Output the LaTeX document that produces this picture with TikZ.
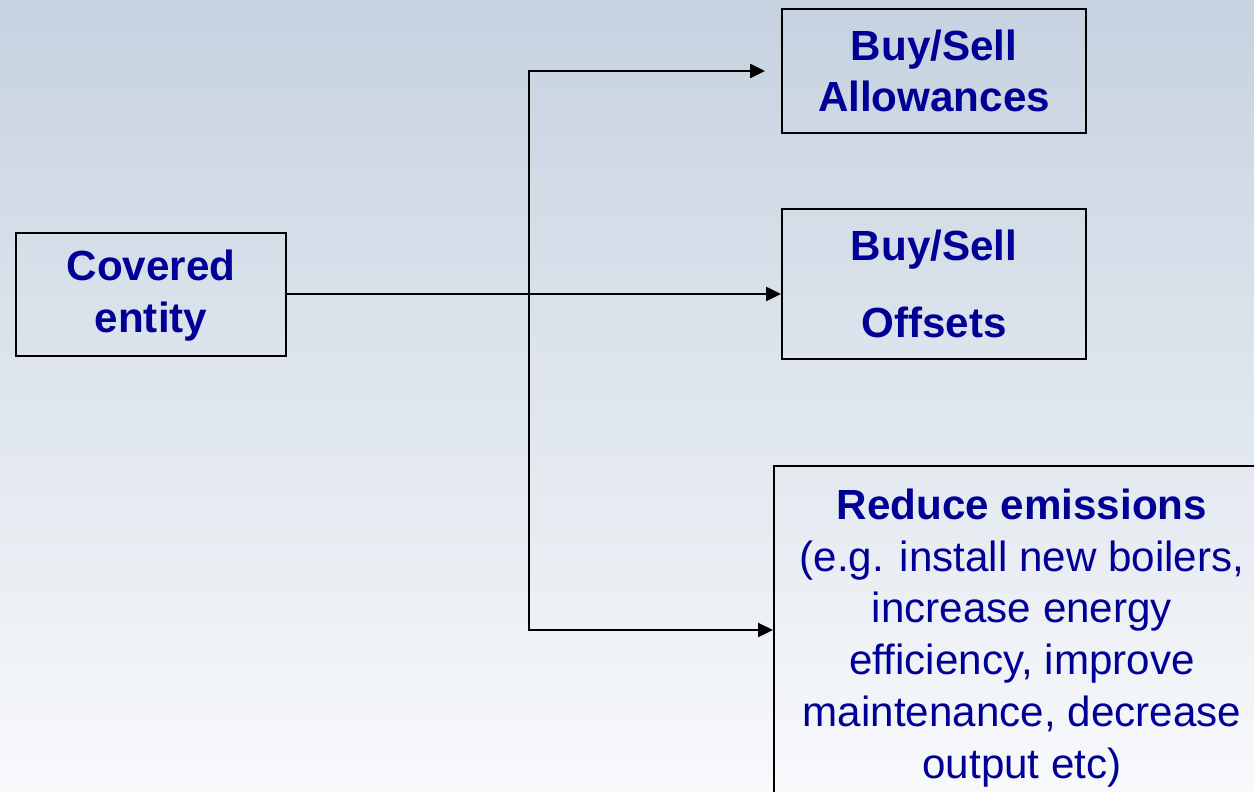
\documentclass[tikz,border=0pt]{standalone}
\usepackage{fontspec}
\setmainfont{Liberation Sans}
\usetikzlibrary{arrows.meta}
\definecolor{boxtext}{RGB}{0,0,150}
\definecolor{bgtop}{RGB}{198,210,224}
\definecolor{bgbottom}{RGB}{248,249,251}
\tikzset{
  choice/.style={draw, line width=1.1pt, text=boxtext, align=center, inner sep=0pt,
    font=\fontsize{24}{29.5}\selectfont},
  boldchoice/.style={choice, font=\fontsize{24}{29.5}\selectfont\bfseries},
  link/.style={line width=1.1pt},
  arr/.style={link, -{Triangle[length=8.5pt,width=8pt]}}
}
\begin{document}
\begin{tikzpicture}[x=0.02cm,y=-0.02cm]
    %% background
    \useasboundingbox (0,0) rectangle (1254,791);
    \clip (0,0) rectangle (1254,791);
    \shade[top color=bgtop,bottom color=bgbottom] (0,0) rectangle (1254,791);
    %% boxes
    \node[boldchoice,minimum width=5.4cm,minimum height=2.46cm,text depth=4pt] (covered) at (151,294.5) {Covered\\entity};
    \node[boldchoice,minimum width=6.08cm,minimum height=2.48cm] (allowances) at (934,71) {Buy/Sell\\Allowances};
    \node[boldchoice,minimum width=6.08cm,minimum height=3cm] (offsets) at (934,284) {Buy/Sell\\[14pt]Offsets};
    \node[choice,anchor=north west,minimum width=10cm,minimum height=7cm] (reduce) at (773,465) {};
    \node[choice,draw=none] (reducetext) at (1022,638) {\textbf{Reduce emissions}\\(e.g. install new boilers,\\increase energy\\efficiency, improve\\maintenance, decrease\\output etc)};
    %% connectors
    \coordinate (split) at (529,294);
    \draw[link] (covered.east |- split) -- (split);
    \draw[arr] (split) -- (split -| offsets.west);
    \draw[arr] (split) |- ([xshift=-0.32cm]allowances.west);
    \draw[arr] (split) |- (reduce.west |- 0,630);
\end{tikzpicture}
\end{document}
